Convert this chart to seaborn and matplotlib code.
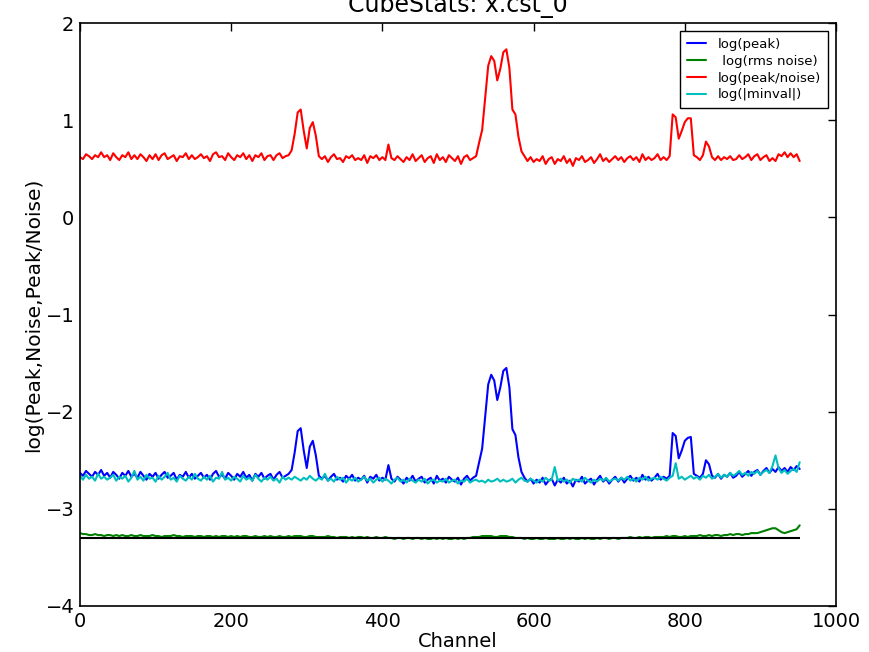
import numpy as np
import matplotlib
matplotlib.use("Agg")
import matplotlib.pyplot as plt
import seaborn as sns

# Channel axis (every 4th channel of the cube)
channels = np.arange(0, 953, 4)

# log10 of the peak value per channel
log_peak = [
    -2.63, -2.66, -2.61, -2.64, -2.67, -2.62, -2.65, -2.60, -2.66, -2.63,
    -2.68, -2.62, -2.65, -2.69, -2.63, -2.66, -2.61, -2.67, -2.64, -2.68,
    -2.62, -2.66, -2.70, -2.64, -2.67, -2.63, -2.69, -2.65, -2.62, -2.68,
    -2.66, -2.63, -2.70, -2.65, -2.67, -2.62, -2.68, -2.64, -2.69, -2.66,
    -2.63, -2.68, -2.65, -2.70, -2.64, -2.61, -2.67, -2.65, -2.69, -2.63,
    -2.66, -2.70, -2.64, -2.67, -2.62, -2.68, -2.65, -2.71, -2.64, -2.67,
    -2.63, -2.69, -2.66, -2.64, -2.70, -2.65, -2.62, -2.68, -2.66, -2.64,
    -2.60, -2.42, -2.20, -2.17, -2.40, -2.58, -2.36, -2.30, -2.45, -2.66,
    -2.69, -2.66, -2.71, -2.67, -2.64, -2.70, -2.68, -2.72, -2.66, -2.69,
    -2.65, -2.71, -2.68, -2.70, -2.66, -2.73, -2.67, -2.69, -2.65, -2.71,
    -2.68, -2.70, -2.55, -2.69, -2.72, -2.67, -2.70, -2.74, -2.68, -2.71,
    -2.66, -2.72, -2.69, -2.67, -2.73, -2.70, -2.68, -2.74, -2.66, -2.71,
    -2.69, -2.73, -2.67, -2.70, -2.72, -2.68, -2.75, -2.69, -2.66, -2.71,
    -2.68, -2.66,
    -2.52, -2.38, -2.05, -1.72, -1.62, -1.68, -1.88, -1.75, -1.58, -1.55,
    -1.75, -2.18, -2.24, -2.47, -2.62, -2.68,
    -2.72, -2.69, -2.74, -2.70, -2.73, -2.68, -2.75, -2.71, -2.69, -2.76,
    -2.70, -2.73, -2.68, -2.74, -2.71, -2.77, -2.70, -2.72, -2.67, -2.74,
    -2.71, -2.69, -2.75, -2.70, -2.66, -2.72, -2.69, -2.74, -2.70, -2.67,
    -2.72, -2.68, -2.73, -2.69, -2.66, -2.71, -2.68, -2.72, -2.65, -2.70,
    -2.67, -2.71, -2.68, -2.64, -2.70, -2.67, -2.69,
    -2.66, -2.22, -2.25, -2.48, -2.40, -2.30, -2.27, -2.26, -2.64, -2.66,
    -2.68, -2.64, -2.50, -2.54, -2.66,
    -2.68, -2.64, -2.69, -2.65, -2.67, -2.63, -2.68, -2.66, -2.62, -2.67,
    -2.64, -2.61, -2.66, -2.62, -2.60, -2.65, -2.61, -2.58, -2.63, -2.59,
    -2.62, -2.57, -2.61, -2.58, -2.62, -2.57, -2.60, -2.56, -2.59,
]

# log10 of the rms noise per channel
log_noise = [
    -3.25, -3.26, -3.26, -3.27, -3.27, -3.26, -3.27, -3.27, -3.28, -3.27,
    -3.27, -3.28, -3.27, -3.28, -3.27, -3.28, -3.28, -3.27, -3.28, -3.28,
    -3.27, -3.28, -3.28, -3.28, -3.27, -3.28, -3.28, -3.29, -3.28, -3.28,
    -3.28, -3.27, -3.28, -3.28, -3.29, -3.28, -3.28, -3.28, -3.29, -3.28,
    -3.28, -3.29, -3.28, -3.28, -3.29, -3.28, -3.29, -3.28, -3.28, -3.29,
    -3.28, -3.29, -3.28, -3.29, -3.28, -3.28, -3.29, -3.29, -3.28, -3.29,
    -3.29, -3.28, -3.29, -3.28, -3.29, -3.29, -3.28, -3.29, -3.29, -3.28,
    -3.29, -3.28, -3.28, -3.28, -3.29, -3.29, -3.28, -3.28, -3.29, -3.29,
    -3.29, -3.29, -3.28, -3.29, -3.29, -3.30, -3.29, -3.29, -3.29, -3.30,
    -3.29, -3.30, -3.29, -3.29, -3.30, -3.29, -3.30, -3.30, -3.29, -3.30,
    -3.30, -3.29, -3.30, -3.30, -3.31, -3.30, -3.30, -3.31, -3.30, -3.30,
    -3.31, -3.30, -3.30, -3.31, -3.30, -3.31, -3.31, -3.30, -3.31, -3.30,
    -3.31, -3.30, -3.31, -3.31, -3.30, -3.31, -3.30, -3.31, -3.30, -3.30,
    -3.29, -3.29, -3.29, -3.28, -3.28, -3.28, -3.28, -3.29, -3.29, -3.28,
    -3.28, -3.28, -3.29, -3.29, -3.30, -3.30, -3.30, -3.31, -3.30, -3.31,
    -3.31, -3.30, -3.31, -3.31, -3.30, -3.31, -3.31, -3.31, -3.30, -3.31,
    -3.31, -3.30, -3.31, -3.30, -3.31, -3.31, -3.30, -3.31, -3.30, -3.31,
    -3.31, -3.30, -3.31, -3.30, -3.30, -3.31, -3.30, -3.30, -3.31, -3.30,
    -3.30, -3.30, -3.29, -3.30, -3.30, -3.29, -3.30, -3.29, -3.29, -3.30,
    -3.29, -3.29, -3.29, -3.29, -3.28, -3.29, -3.28, -3.28, -3.29, -3.29,
    -3.28, -3.29, -3.28, -3.28, -3.28, -3.27, -3.28, -3.28, -3.27, -3.28,
    -3.27, -3.27, -3.28, -3.27, -3.27, -3.26, -3.27, -3.26, -3.26, -3.27,
    -3.26, -3.26, -3.25, -3.25, -3.25, -3.24, -3.23, -3.22, -3.21, -3.20,
    -3.20, -3.22, -3.24, -3.25, -3.24, -3.23, -3.22, -3.21, -3.17,
]

# log10 of |minimum value| per channel
log_minval = [
    -2.66, -2.70, -2.65, -2.69, -2.67, -2.71, -2.64, -2.69, -2.67, -2.70,
    -2.68, -2.65, -2.71, -2.67, -2.69, -2.66, -2.72, -2.68, -2.61, -2.70,
    -2.67, -2.71, -2.65, -2.69, -2.68, -2.72, -2.66, -2.70, -2.67, -2.63,
    -2.70, -2.68, -2.72, -2.66, -2.69, -2.71, -2.67, -2.70, -2.64, -2.69,
    -2.71, -2.67, -2.70, -2.66, -2.72, -2.68, -2.69, -2.62, -2.70, -2.68,
    -2.71, -2.67, -2.69, -2.72, -2.66, -2.70, -2.68, -2.71, -2.65, -2.69,
    -2.72, -2.68, -2.70, -2.67, -2.71, -2.69, -2.73, -2.67, -2.70, -2.68,
    -2.70, -2.67, -2.69, -2.71, -2.68, -2.70, -2.66, -2.69, -2.71, -2.68,
    -2.70, -2.64, -2.71, -2.69, -2.72, -2.67, -2.70, -2.68, -2.73, -2.69,
    -2.71, -2.68, -2.72, -2.70, -2.67, -2.71, -2.69, -2.73, -2.70, -2.68,
    -2.72, -2.69, -2.71, -2.74, -2.70, -2.68, -2.72, -2.70, -2.73, -2.69,
    -2.71, -2.73, -2.70, -2.72, -2.69, -2.74, -2.71, -2.70, -2.73, -2.71,
    -2.72, -2.69, -2.73, -2.71, -2.70, -2.74, -2.71, -2.72, -2.69, -2.73,
    -2.71, -2.70, -2.72, -2.71, -2.73, -2.70, -2.72, -2.71, -2.69, -2.72,
    -2.70, -2.72, -2.71, -2.69, -2.73, -2.70, -2.68, -2.71, -2.72, -2.69,
    -2.71, -2.73, -2.70, -2.72, -2.68, -2.71, -2.70, -2.57, -2.71, -2.69,
    -2.72, -2.70, -2.73, -2.69, -2.71, -2.70, -2.72, -2.68, -2.71, -2.73,
    -2.70, -2.72, -2.69, -2.71, -2.68, -2.72, -2.70, -2.69, -2.71, -2.68,
    -2.70, -2.67, -2.71, -2.69, -2.72, -2.68, -2.70, -2.67, -2.71, -2.69,
    -2.68, -2.70, -2.67, -2.69, -2.71, -2.68, -2.66, -2.53, -2.69, -2.67,
    -2.70, -2.68, -2.66, -2.69, -2.67, -2.70, -2.66, -2.68, -2.65, -2.69,
    -2.67, -2.64, -2.68, -2.65, -2.67, -2.63, -2.66, -2.64, -2.61, -2.65,
    -2.63, -2.66, -2.62, -2.64, -2.61, -2.65, -2.62, -2.60, -2.63, -2.56,
    -2.45, -2.58, -2.63, -2.60, -2.64, -2.61, -2.59, -2.62, -2.52,
]

# Reference noise level drawn as a flat line
noise_floor = -3.30

series_labels = ["log(peak)", " log(rms noise)", "log(peak/noise)", "log(|minval|)"]
series_colors = ["#0000ff", "#008000", "#ff0000", "#00bfbf"]

log_peak = np.array(log_peak)
log_noise = np.array(log_noise)
log_minval = np.array(log_minval)
log_snr = log_peak - log_noise

sns.set_style("white")
plt.rcParams["font.family"] = ["DejaVu Sans"]
plt.rcParams["text.color"] = "black"
plt.rcParams["axes.labelcolor"] = "black"

fig = plt.figure(figsize=(8.69, 6.52), dpi=100)
ax = fig.add_axes([0.092, 0.0706, 0.870, 0.894])

for vals, lab, col in zip([log_peak, log_noise, log_snr, log_minval],
                          series_labels, series_colors):
    sns.lineplot(x=channels, y=vals, color=col, label=lab, ax=ax,
                 linewidth=1.5, estimator=None, sort=False)

ax.hlines(noise_floor, channels[0], channels[-1], color="black", linewidth=1.5)

ax.set_xlim(0, 1000)
ax.set_ylim(-4, 2)
ax.set_xticks([0, 200, 400, 600, 800, 1000])
ax.set_yticks([-4, -3, -2, -1, 0, 1, 2])
ax.tick_params(direction="in", length=6, width=1, top=True, right=True,
               labelsize=14, pad=4, colors="black")
for sp in ax.spines.values():
    sp.set_color("black")
    sp.set_linewidth(1.2)

ax.set_xlabel("Channel", fontsize=14, labelpad=1, color="black")
ax.set_ylabel("log(Peak,Noise,Peak/Noise)", fontsize=14.5, labelpad=2, color="black")
ax.set_title("CubeStats: x.cst_0", fontsize=17, pad=8, color="black")

leg = ax.legend(loc="upper right", fontsize=9.5, fancybox=False, framealpha=1,
                edgecolor="black", handlelength=1.5, handletextpad=0.9,
                borderaxespad=0.6, labelspacing=0.3, borderpad=0.5)
leg.get_frame().set_linewidth(1.0)
for t in leg.get_texts():
    t.set_color("black")

fig.savefig("out.png", dpi=100)
